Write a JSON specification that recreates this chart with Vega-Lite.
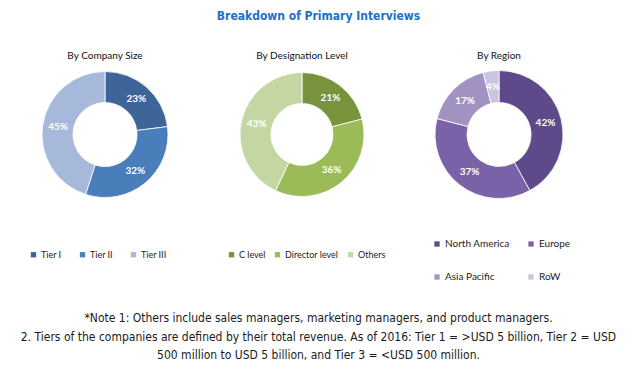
{
  "$schema": "https://vega.github.io/schema/vega-lite/v6.json",
  "background": "white",
  "padding": {"left": 15, "top": 10, "right": 0, "bottom": 0},
  "title": {
    "text": "Breakdown of Primary Interviews",
    "color": "#1F6FC5",
    "font": "Liberation Sans Narrow, DejaVu Sans Condensed, Liberation Sans",
    "fontSize": 12,
    "fontWeight": "bold",
    "anchor": "middle",
    "offset": 28
  },
  "data": {
    "values": [
      {"chart": "By Company Size", "category": "Tier I", "value": 0.23, "k": 1},
      {"chart": "By Company Size", "category": "Tier II", "value": 0.32, "k": 2},
      {"chart": "By Company Size", "category": "Tier III", "value": 0.45, "k": 3},
      {"chart": "By Designation Level", "category": "C level", "value": 0.21, "k": 1},
      {"chart": "By Designation Level", "category": "Director level", "value": 0.36, "k": 2},
      {"chart": "By Designation Level", "category": "Others", "value": 0.43, "k": 3},
      {"chart": "By Region", "category": "North America", "value": 0.42, "k": 1},
      {"chart": "By Region", "category": "Europe", "value": 0.37, "k": 2},
      {"chart": "By Region", "category": "Asia Pacific", "value": 0.17, "k": 3},
      {"chart": "By Region", "category": "RoW", "value": 0.04, "k": 4}
    ]
  },
  "vconcat": [
    {
      "hconcat": [
        {
          "title": "By Company Size",
          "width": 180,
          "height": 137,
          "transform": [{"filter": "datum.chart == 'By Company Size'"}],
          "encoding": {
            "theta": {"field": "value", "type": "quantitative", "stack": true},
            "order": {"field": "k", "type": "quantitative"}
          },
          "layer": [
            {
              "mark": {"type": "arc", "innerRadius": 32, "outerRadius": 63, "stroke": "white", "strokeWidth": 0.8},
              "encoding": {
                "color": {
                  "field": "category", "type": "nominal",
                  "scale": {"domain": ["Tier I", "Tier II", "Tier III"], "range": ["#3F6497", "#4A7EBB", "#A7B9DA"]},
                  "legend": {"orient": "none", "legendX": 14, "legendY": 184, "columns": 3, "columnPadding": 16, "labelFontSize": 9}
                }
              }
            },
            {
              "mark": {"type": "text", "radius": 47.5, "color": "white", "fontWeight": "bold", "fontSize": 10, "font": "Lato"},
              "encoding": {"text": {"field": "value", "type": "quantitative", "format": ".0%"}}
            }
          ]
        },
        {
          "title": "By Designation Level",
          "width": 180,
          "height": 137,
          "transform": [{"filter": "datum.chart == 'By Designation Level'"}],
          "encoding": {
            "theta": {"field": "value", "type": "quantitative", "stack": true},
            "order": {"field": "k", "type": "quantitative"}
          },
          "layer": [
            {
              "mark": {"type": "arc", "innerRadius": 31, "outerRadius": 62, "stroke": "white", "strokeWidth": 0.8},
              "encoding": {
                "color": {
                  "field": "category", "type": "nominal",
                  "scale": {"domain": ["C level", "Director level", "Others"], "range": ["#77933C", "#9BBB59", "#C4D6A1"]},
                  "legend": {"orient": "none", "legendX": 15, "legendY": 184, "columns": 3, "columnPadding": 7, "labelFontSize": 9}
                }
              }
            },
            {
              "mark": {"type": "text", "radius": 46.5, "color": "white", "fontWeight": "bold", "fontSize": 10, "font": "Lato"},
              "encoding": {"text": {"field": "value", "type": "quantitative", "format": ".0%"}}
            }
          ]
        },
        {
          "title": "By Region",
          "width": 180,
          "height": 137,
          "transform": [{"filter": "datum.chart == 'By Region'"}],
          "encoding": {
            "theta": {"field": "value", "type": "quantitative", "stack": true},
            "order": {"field": "k", "type": "quantitative"}
          },
          "layer": [
            {
              "mark": {"type": "arc", "innerRadius": 32, "outerRadius": 64, "stroke": "white", "strokeWidth": 0.8},
              "encoding": {
                "color": {
                  "field": "category", "type": "nominal",
                  "scale": {"domain": ["North America", "Europe", "Asia Pacific", "RoW"], "range": ["#5E4A8A", "#7B62A8", "#A192C2", "#CCC3DC"]},
                  "legend": {"orient": "none", "legendX": 23, "legendY": 173, "columns": 2, "columnPadding": 16, "rowPadding": 23, "labelFontSize": 10}
                }
              }
            },
            {
              "mark": {"type": "text", "radius": 48, "color": "white", "fontWeight": "bold", "fontSize": 10, "font": "Lato"},
              "encoding": {"text": {"field": "value", "type": "quantitative", "format": ".0%"}}
            }
          ]
        }
      ],
      "spacing": 17,
      "resolve": {"scale": {"color": "independent"}, "legend": {"color": "independent"}}
    },
    {
      "data": {"values": [{"note": 1}]},
      "width": 607,
      "height": 58,
      "mark": {
        "type": "text",
        "text": [
          "*Note 1: Others include sales managers, marketing managers, and product managers.",
          "2. Tiers of the companies are defined by their total revenue. As of 2016: Tier 1 = >USD 5 billion, Tier 2 = USD",
          "500 million to USD 5 billion, and Tier 3 = <USD 500 million."
        ],
        "lineHeight": 18.5,
        "font": "Liberation Sans Narrow, DejaVu Sans Condensed, Liberation Sans",
        "fontSize": 12,
        "color": "#1a1a1a",
        "baseline": "middle",
        "align": "center"
      },
      "encoding": {}
    }
  ],
  "spacing": 7,
  "resolve": {"scale": {"color": "independent"}, "legend": {"color": "independent"}},
  "config": {
    "view": {"stroke": null},
    "title": {"font": "Lato", "fontSize": 10, "fontWeight": "normal", "color": "#111", "offset": 5},
    "legend": {
      "direction": "horizontal",
      "title": null,
      "symbolType": "square",
      "symbolSize": 28,
      "symbolStrokeWidth": 0,
      "labelFont": "Lato",
      "labelColor": "#222",
      "labelOffset": 3
    }
  }
}
